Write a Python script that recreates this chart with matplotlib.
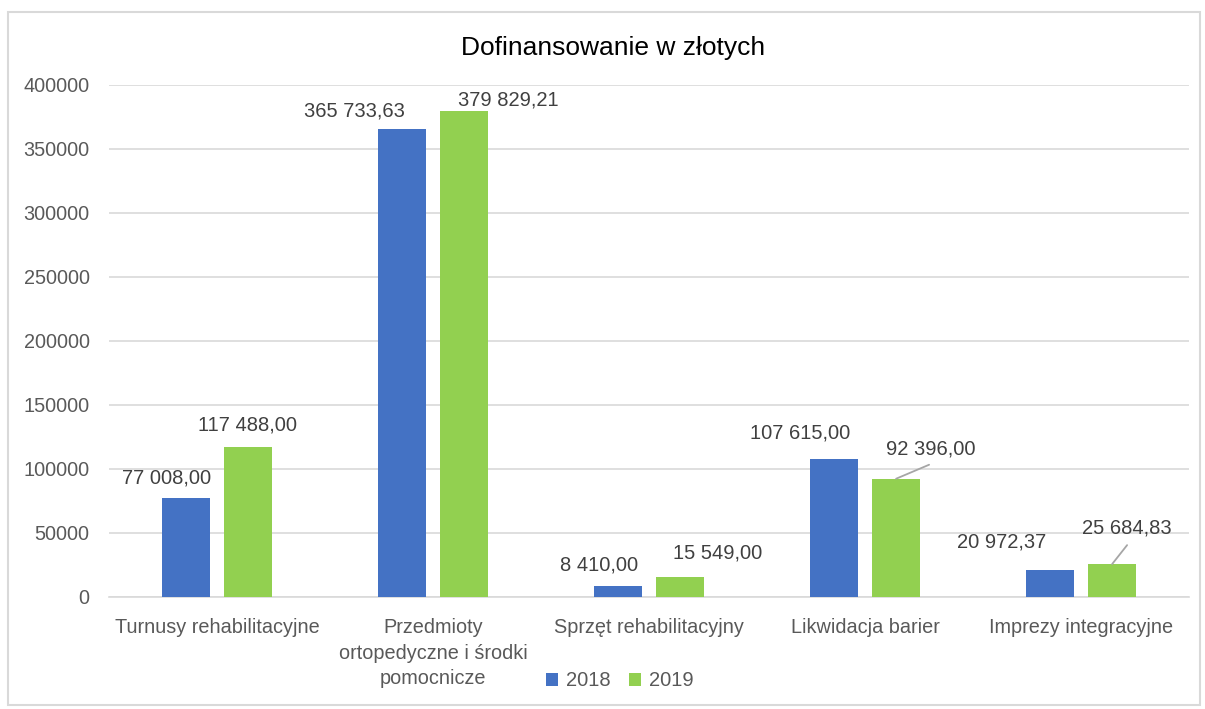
import numpy as np
import matplotlib.pyplot as plt
from matplotlib.patches import Rectangle

plt.rcParams['font.family'] = ['Liberation Sans', 'DejaVu Sans']

#%% data
categories = ['Turnusy rehabilitacyjne',
              'Przedmioty\nortopedyczne i środki\npomocnicze',
              'Sprzęt rehabilitacyjny',
              'Likwidacja barier',
              'Imprezy integracyjne']
v2018 = [77008.00, 365733.63, 8410.00, 107615.00, 20972.37]
v2019 = [117488.00, 379829.21, 15549.00, 92396.00, 25684.83]
series = ['2018', '2019']
yticks = [0, 50000, 100000, 150000, 200000, 250000, 300000, 350000, 400000]

# label offsets in pixels (dx, dy) from bar top centre, as moved in the original
off2018 = [(-19, 20), (-47, 18), (-19, 21), (-34, 26), (-48, 28)]
off2019 = [(-1, 22), (44, 11), (38, 24), (35, 30), (15, 36)]
# leader line end (dx, dy) in pixels, None = no leader
lead2019 = [None, None, None, (33, 14), (15, 19)]

def fmt(v):
    s = f'{v:,.2f}'
    return s.replace(',', ' ').replace('.', ',')

#%% plotting
grey = '#595959'
fig = plt.figure(figsize=(12.05, 7.09), dpi=100)
ax = fig.add_axes([109/1205, 1 - 597/709, 1080/1205, 512/709])

x = np.arange(len(categories))
w = 0.222
d = 0.144
b1 = ax.bar(x - d, v2018, w, color='#4472C4', label=series[0], zorder=3)
b2 = ax.bar(x + d, v2019, w, color='#92D050', label=series[1], zorder=3)

ax.set_xlim(-0.5, len(categories) - 0.5)
ax.set_ylim(0, 400000)
ax.set_yticks(yticks)
ax.set_yticklabels([str(t) for t in yticks])
ax.set_xticks(x)
ax.set_xticklabels(categories, linespacing=1.45)
ax.tick_params(axis='both', length=0, colors=grey)
ax.tick_params(axis='y', pad=14, labelsize=14.3)
ax.tick_params(axis='x', pad=15, labelsize=14.3)
ax.grid(axis='y', color='#d9d9d9', linewidth=1.2, zorder=0)
for s in ['top', 'right', 'left']:
    ax.spines[s].set_visible(False)
ax.spines['bottom'].set_color('#d9d9d9')
ax.spines['bottom'].set_linewidth(1.2)

# pixel -> points conversion for offsets (dpi 100)
k = 72 / 100
for bars, vals, offs in [(b1, v2018, off2018), (b2, v2019, off2019)]:
    for i, (r, v) in enumerate(zip(bars, vals)):
        cx = r.get_x() + r.get_width() / 2
        dx, dy = offs[i]
        ax.annotate(fmt(v), (cx, v), xytext=(dx * k, dy * k), textcoords='offset points',
                    ha='center', va='center', fontsize=14.5, color='#404040')

for i, (r, v) in enumerate(zip(b2, v2019)):
    if lead2019[i] is not None:
        cx = r.get_x() + r.get_width() / 2
        lx, ly = lead2019[i]
        ax.annotate('', (cx, v), xytext=(lx * k, ly * k), textcoords='offset points',
                    arrowprops=dict(arrowstyle='-', color='#a6a6a6', lw=1.3, shrinkA=0, shrinkB=0))

fig.text(613/1205, 1 - 48/709, 'Dofinansowanie w złotych', fontsize=19, color='black',
         ha='center', va='center')

fig.legend(loc='center', bbox_to_anchor=(620/1205, 1 - 681/709), ncol=2, frameon=False,
           fontsize=14.5, handlelength=0.6, handleheight=0.6, handletextpad=0.4,
           columnspacing=0.9, labelcolor=grey)

fig.patches.append(Rectangle((8/1205, 4/709), 1192/1205, 693/709, transform=fig.transFigure,
                             fill=False, edgecolor='#d9d9d9', linewidth=1.5))

plt.savefig('out.png', dpi=100)
